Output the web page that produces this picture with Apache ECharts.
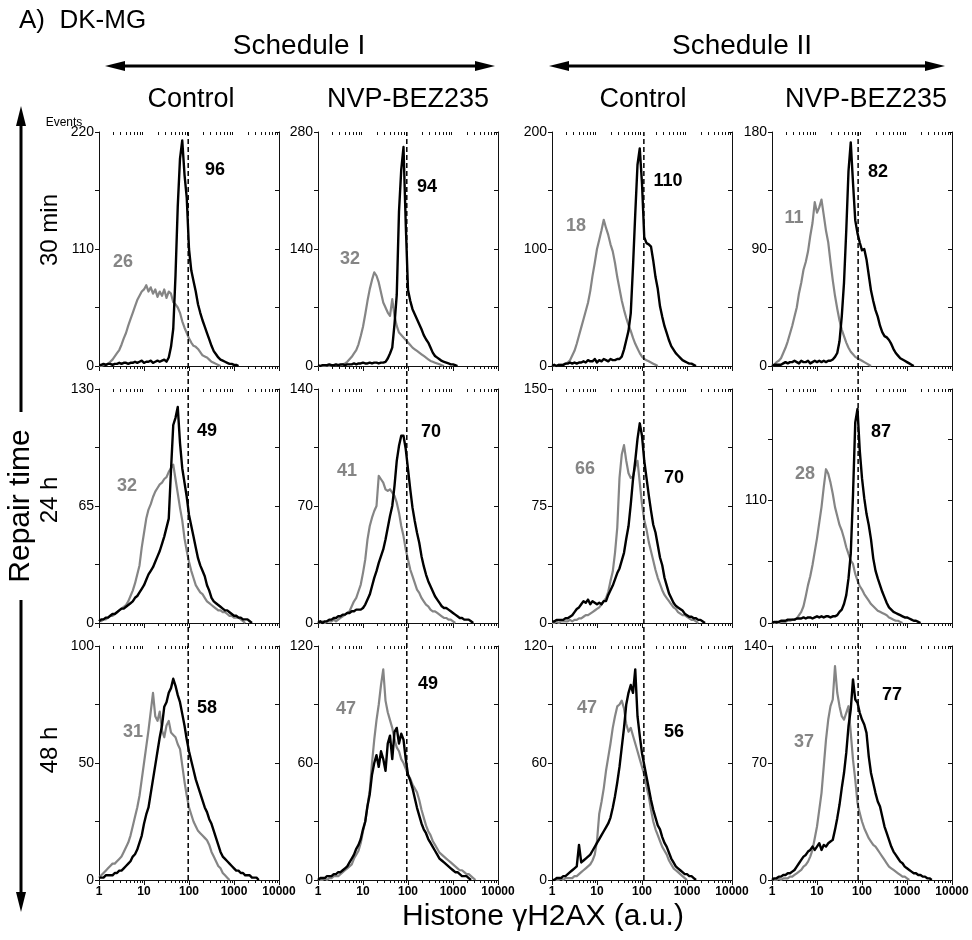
<!DOCTYPE html>
<html>
<head>
<meta charset="utf-8">
<title>DK-MG histone γH2AX</title>
<script src="https://cdn.jsdelivr.net/npm/echarts/dist/echarts.min.js"></script>
<style>
  html, body { margin: 0; padding: 0; background: #fff; }
  #chart { width: 972px; height: 940px; }
</style>
</head>
<body>
<div id="chart"></div>
<script>
// histogram channels: 20 per decade, channel k sits at 10^(k/20)
const CHANNELS_PER_DECADE = 20;

const rowNames = ['30 min', '24 h', '48 h'];
const colNames = ['Control', 'NVP-BEZ235', 'Control', 'NVP-BEZ235'];
const scheduleNames = ['Schedule I', 'Schedule II'];
const minorTickValues = [2, 3, 4, 5, 6, 7, 8, 9, 20, 30, 40, 50, 60, 70, 80, 90,
  200, 300, 400, 500, 600, 700, 800, 900, 2000, 3000, 4000, 5000, 6000, 7000, 8000, 9000];

// y axis range, tick step and labelled ticks, [row][col]
const yMax = [[220, 280, 200, 180], [130, 140, 150, 210], [100, 120, 120, 140]];
const yStep = [[55, 70, 50, 45], [32.5, 35, 37.5, 55], [25, 30, 30, 35]];
const yLabels = [
  [[0, 110, 220], [0, 140, 280], [0, 100, 200], [0, 90, 180]],
  [[0, 65, 130], [0, 70, 140], [0, 75, 150], [0, 110]],
  [[0, 50, 100], [0, 60, 120], [0, 60, 120], [0, 70, 140]]
];

// dashed line = 30 min value of each column
const refLine = [96, 94, 110, 82];
// median numbers written in the panels
const grayMedian = [[26, 32, 18, 11], [32, 41, 66, 28], [31, 47, 47, 37]];
const blackMedian = [[96, 94, 110, 82], [49, 70, 70, 87], [58, 49, 56, 77]];

// ---- histogram counts, channel 0 upward ----
// 30 min
const grayT30S1Ctrl = [0,0,1,1,2,4,6,9,12,15,20,26,31,38,44,50,56,62,66,70,72,76,70,74,68,72,65,70,66,72,64,70,68,60,58,55,50,42,36,31,26,22,19,18,16,13,10,9,8,6,4,3,2,1,0];
const blackT30S1Ctrl = [1,1,2,1,2,2,1,2,2,3,2,3,3,2,3,3,4,3,4,5,3,4,4,5,3,4,5,4,5,6,4,8,18,35,85,150,195,212,180,158,110,90,80,70,58,50,43,37,31,25,19,14,11,8,6,5,4,3,2,2,1,1,0];
const grayT30S1Nvp = [0,0,0,0,1,0,1,1,1,1,1,2,3,5,8,11,15,19,26,36,47,62,78,92,103,112,108,100,88,76,70,64,60,80,60,48,40,37,34,31,28,25,22,20,18,16,14,12,10,8,6,5,4,3,2,1,0];
const blackT30S1Nvp = [1,0,1,1,1,2,1,1,2,1,2,2,1,2,2,2,3,2,3,3,4,3,3,4,3,4,4,3,4,4,5,9,15,22,50,85,185,235,262,170,91,78,68,62,56,50,44,37,32,28,22,16,12,10,8,6,5,4,3,2,2,1,0];
const grayT30S2Ctrl = [0,0,0,1,1,1,2,3,5,9,13,19,26,33,40,47,54,64,77,88,100,108,116,125,118,112,104,98,88,76,66,56,48,41,35,30,24,19,15,11,8,6,5,4,3,2,1,0];
const blackT30S2Ctrl = [0,1,0,1,1,1,2,2,3,2,3,2,3,3,4,3,5,4,4,6,3,5,4,6,5,4,6,5,5,6,6,8,14,22,30,45,85,130,172,186,156,110,105,104,102,90,76,66,51,42,34,28,22,17,14,11,9,7,5,4,3,2,2,1,0];
const grayT30S2Nvp = [0,1,3,4,6,10,14,19,25,31,38,45,56,64,74,80,88,100,110,126,118,122,128,116,104,95,80,66,54,44,35,28,23,18,14,11,9,7,6,5,4,3,2,1,0];
const blackT30S2Nvp = [0,1,1,1,1,2,3,2,3,3,4,3,2,4,3,3,4,2,3,4,3,4,3,4,3,4,4,5,7,10,19,38,64,104,150,172,141,112,102,95,89,90,82,70,58,50,43,38,31,26,23,22,20,17,13,10,8,6,5,4,3,2,1,0];
// 24 h
const grayT24S1Ctrl = [1,1,2,2,3,4,4,5,6,7,8,9,10,12,15,18,22,27,32,42,50,58,63,66,70,73,75,77,78,80,81,84,86,88,80,72,64,57,47,40,34,29,25,21,19,17,16,14,12,11,10,9,8,7,7,6,6,5,4,4,3,3,3,2,1,0];
const blackT24S1Ctrl = [1,2,2,3,3,4,5,5,6,7,8,8,9,10,11,12,14,15,17,19,21,24,27,29,31,34,37,40,44,48,53,58,85,110,114,120,100,86,78,70,60,54,48,42,36,32,29,26,21,18,14,12,11,10,9,8,7,7,6,5,4,4,3,3,2,2,2,1,0];
const grayT24S1Nvp = [0,0,1,0,1,1,1,2,1,2,3,4,5,6,7,10,13,15,19,23,30,38,50,58,63,67,70,88,86,84,80,79,80,78,76,72,66,58,52,44,38,32,28,24,20,18,15,13,11,10,8,7,7,6,5,4,3,3,2,2,1,0];
const blackT24S1Nvp = [0,1,0,1,1,2,2,3,3,4,4,5,5,6,6,7,7,8,8,8,9,11,14,17,22,27,31,36,40,44,50,57,64,70,82,97,106,112,112,104,92,80,69,61,54,48,40,34,29,25,22,19,16,14,12,10,9,9,8,7,6,5,4,3,3,2,2,2,1,0];
const grayT24S2Ctrl = [0,0,1,0,1,1,1,1,2,1,2,2,3,3,4,5,5,6,7,8,9,10,12,14,16,20,27,33,45,61,93,108,114,104,96,93,94,100,104,90,76,66,60,52,46,40,34,29,25,21,18,16,14,12,10,9,7,6,5,5,4,3,2,2,1,0];
const blackT24S2Ctrl = [1,1,2,2,2,2,3,3,4,5,7,9,10,12,14,13,15,12,14,13,12,13,12,14,14,18,21,24,28,32,35,40,45,54,62,76,92,104,118,128,120,104,93,82,72,63,58,50,42,37,29,24,19,16,13,11,10,9,8,6,5,4,4,3,3,2,2,1,0];
const grayT24S2Nvp = [0,0,1,0,1,1,1,2,2,3,3,4,7,10,15,24,34,42,52,64,76,90,104,122,138,134,126,116,104,96,88,83,76,68,62,56,53,44,38,33,30,26,23,20,17,15,13,11,10,9,8,7,5,4,3,2,2,1,0];
const blackT24S2Nvp = [0,1,1,1,2,2,2,3,3,3,3,4,4,4,5,4,5,5,4,5,6,5,6,5,6,6,5,6,6,7,10,12,17,25,40,62,115,180,192,155,130,112,98,88,75,58,47,40,34,28,23,18,14,12,10,9,8,7,6,5,5,4,3,2,2,1,0];
// 48 h
const grayT48S1Ctrl = [1,2,3,4,5,6,7,7,8,9,10,12,14,16,19,23,27,31,36,43,50,57,64,72,80,70,68,72,64,61,66,68,63,62,61,58,56,49,42,36,31,28,25,23,21,20,19,18,17,15,12,10,8,6,5,3,2,1,0];
const blackT48S1Ctrl = [1,1,1,2,2,2,2,3,3,4,4,5,6,7,8,10,11,13,16,19,24,28,31,37,43,49,55,61,66,74,76,80,82,86,83,79,76,71,66,60,55,51,47,43,40,37,34,31,29,26,24,21,18,15,12,10,9,8,7,6,5,4,4,3,3,2,2,2,1,1,1,0];
const grayT48S1Nvp = [0,0,0,1,0,1,1,2,2,2,3,4,5,6,7,8,11,13,15,19,25,30,38,46,60,72,82,90,100,108,92,86,82,78,72,68,66,62,60,57,54,52,49,47,45,41,36,32,28,25,23,20,18,16,14,13,12,11,10,9,8,7,6,5,5,4,3,3,2,1,0];
const blackT48S1Nvp = [0,1,1,1,2,2,2,3,3,4,4,5,6,7,9,11,13,16,18,21,26,30,38,44,54,60,64,58,66,62,56,70,74,62,76,78,70,75,72,62,54,51,47,42,37,33,29,26,24,21,19,17,15,13,11,10,9,8,7,6,5,4,4,3,2,2,2,1,0];
const grayT48S2Ctrl = [0,0,0,0,1,0,1,1,1,1,2,2,3,4,5,6,7,8,10,13,20,34,40,47,56,63,70,78,84,89,90,92,88,80,76,78,74,70,66,62,58,54,48,43,36,30,26,23,20,17,15,13,10,8,6,5,4,3,2,1,0];
const blackT48S2Ctrl = [0,0,1,1,1,2,2,3,4,5,6,7,18,9,10,11,12,13,15,17,19,21,23,25,27,29,32,37,43,50,58,68,78,90,96,100,96,108,84,74,65,59,53,47,41,36,32,28,26,22,19,17,14,11,9,7,6,5,4,3,3,2,2,1,0];
const grayT48S2Nvp = [0,0,0,1,0,1,1,1,2,2,3,4,5,6,8,9,11,14,18,25,32,42,52,68,84,96,104,108,128,112,104,98,96,100,104,88,72,60,46,40,35,31,28,25,23,21,20,18,16,14,12,10,8,7,6,5,4,3,2,2,1,0];
const blackT48S2Nvp = [0,1,1,2,2,3,3,4,4,5,6,8,10,12,14,15,17,18,20,18,20,22,18,21,20,22,23,24,30,37,45,55,64,76,92,102,120,108,106,100,96,93,88,74,64,58,52,47,44,38,32,28,24,20,17,15,13,11,10,8,7,6,5,4,4,3,3,2,2,1,1,0];

const grayData = [
  [grayT30S1Ctrl, grayT30S1Nvp, grayT30S2Ctrl, grayT30S2Nvp],
  [grayT24S1Ctrl, grayT24S1Nvp, grayT24S2Ctrl, grayT24S2Nvp],
  [grayT48S1Ctrl, grayT48S1Nvp, grayT48S2Ctrl, grayT48S2Nvp]
];
const blackData = [
  [blackT30S1Ctrl, blackT30S1Nvp, blackT30S2Ctrl, blackT30S2Nvp],
  [blackT24S1Ctrl, blackT24S1Nvp, blackT24S2Ctrl, blackT24S2Nvp],
  [blackT48S1Ctrl, blackT48S1Nvp, blackT48S2Ctrl, blackT48S2Nvp]
];

// ---- layout ----
const FONT = 'Liberation Sans, Arial, sans-serif';
const GRAY = '#858585';
const colLeft = [99, 318, 552, 772];
const rowTop = [132, 389, 646];
const panelW = 180;
const panelH = 234;
// median label centres, relative to panel top-left: [gray, black]
const labelPos = [
  [[[24, 130], [116, 38]], [[32, 127], [109, 55]], [[24, 94], [116, 49]], [[22, 86], [106, 40]]],
  [[[28, 97], [108, 42]], [[29, 82], [113, 43]], [[33, 80], [122, 89]], [[33, 85], [109, 43]]],
  [[[34, 86], [108, 62]], [[28, 63], [110, 38]], [[35, 62], [122, 86]], [[32, 96], [120, 49]]]
];

function toPairs (counts) {
  return counts.map((c, k) => [Math.pow(10, k / CHANNELS_PER_DECADE), c]);
}

function minorTickItem (params, api) {
  const cs = params.coordSys;
  const x = Math.round(api.coord([api.value(0), 0])[0]) + 0.5;
  const bottom = cs.y + cs.height;
  const top = cs.y;
  const st = { stroke: '#111', lineWidth: 1 };
  return {
    type: 'group',
    children: [
      { type: 'line', shape: { x1: x, y1: bottom, x2: x, y2: bottom + 3 }, style: st },
      { type: 'line', shape: { x1: x, y1: top, x2: x, y2: top + 3 }, style: st }
    ]
  };
}

const grid = [];
const xAxis = [];
const yAxis = [];
const series = [];
const graphic = [];
const lineAxis = { lineStyle: { color: '#111', width: 1 } };

for (let r = 0; r < 3; r++) {
  for (let c = 0; c < 4; c++) {
    const p = r * 4 + c;
    grid.push({ left: colLeft[c], top: rowTop[r], width: panelW, height: panelH });
    const lastRow = r === 2;
    // bottom and top x axes
    xAxis.push({
      type: 'log', logBase: 10, min: 1, max: 10000, gridIndex: p, position: 'bottom',
      axisLine: lineAxis,
      axisTick: { length: 5, lineStyle: { color: '#111' } },
      axisLabel: {
        show: lastRow, color: '#000', fontFamily: FONT, fontWeight: 'bold', fontSize: 12, margin: 6,
        formatter: v => String(Math.round(v))
      },
      splitLine: { show: false }
    });
    xAxis.push({
      type: 'log', logBase: 10, min: 1, max: 10000, gridIndex: p, position: 'top',
      axisLine: lineAxis,
      axisTick: { inside: true, length: 4, lineStyle: { color: '#111' } },
      axisLabel: { show: false },
      splitLine: { show: false }
    });
    const shown = yLabels[r][c];
    yAxis.push({
      type: 'value', min: 0, max: yMax[r][c], interval: yStep[r][c], gridIndex: p, position: 'left',
      axisLine: { show: true, lineStyle: { color: '#111', width: 1 } },
      axisTick: { show: true, length: 4, lineStyle: { color: '#111' } },
      axisLabel: {
        color: '#000', fontFamily: FONT, fontSize: 14, margin: 5,
        formatter: v => (shown.indexOf(v) >= 0 ? String(v) : '')
      },
      splitLine: { show: false }
    });
    yAxis.push({
      type: 'value', min: 0, max: yMax[r][c], interval: yStep[r][c], gridIndex: p, position: 'right',
      axisLine: { show: true, lineStyle: { color: '#111', width: 1 } },
      axisTick: { show: true, inside: true, length: 4, lineStyle: { color: '#111' } },
      axisLabel: { show: false },
      splitLine: { show: false }
    });

    series.push({
      type: 'line', xAxisIndex: 2 * p, yAxisIndex: 2 * p, data: toPairs(grayData[r][c]),
      showSymbol: false, symbol: 'none', lineStyle: { color: GRAY, width: 2.2, join: 'round' }, z: 3
    });
    series.push({
      type: 'line', xAxisIndex: 2 * p, yAxisIndex: 2 * p, data: toPairs(blackData[r][c]),
      showSymbol: false, symbol: 'none', lineStyle: { color: '#000', width: 2.4, join: 'round' }, z: 4
    });
    series.push({
      type: 'custom', xAxisIndex: 2 * p, yAxisIndex: 2 * p, silent: true, clip: false,
      data: minorTickValues.map(v => [v, 0]), renderItem: minorTickItem, z: 5
    });

    const [gp, bp] = labelPos[r][c];
    graphic.push({
      type: 'text', x: colLeft[c] + gp[0], y: rowTop[r] + gp[1],
      style: { text: String(grayMedian[r][c]), fill: GRAY, font: 'bold 18px ' + FONT, textAlign: 'center', textVerticalAlign: 'middle' }
    });
    graphic.push({
      type: 'text', x: colLeft[c] + bp[0], y: rowTop[r] + bp[1],
      style: { text: String(blackMedian[r][c]), fill: '#000', font: 'bold 18px ' + FONT, textAlign: 'center', textVerticalAlign: 'middle' }
    });
  }
}

// full-height overlays carrying the dashed reference line through all rows
for (let c = 0; c < 4; c++) {
  const g = 12 + c;
  grid.push({ left: colLeft[c], top: rowTop[0], width: panelW, height: rowTop[2] + panelH - rowTop[0] });
  xAxis.push({ type: 'log', logBase: 10, min: 1, max: 10000, gridIndex: g, show: false });
  yAxis.push({ type: 'value', min: 0, max: 1, gridIndex: g, show: false });
  series.push({
    type: 'line', xAxisIndex: 24 + c, yAxisIndex: 24 + c,
    data: [[refLine[c], 0], [refLine[c], 1]],
    showSymbol: false, symbol: 'none', z: 6,
    lineStyle: { color: '#000', width: 1.5, type: [5, 3] }
  });
}

// headings and arrows
function hArrow (x1, x2, y) {
  return {
    type: 'group',
    children: [
      { type: 'line', shape: { x1: x1 + 12, y1: y, x2: x2 - 12, y2: y }, style: { stroke: '#000', lineWidth: 3 } },
      { type: 'polygon', shape: { points: [[x1, y], [x1 + 20, y - 5], [x1 + 20, y + 5]] }, style: { fill: '#000' } },
      { type: 'polygon', shape: { points: [[x2, y], [x2 - 20, y - 5], [x2 - 20, y + 5]] }, style: { fill: '#000' } }
    ]
  };
}
graphic.push(hArrow(105, 495, 66));
graphic.push(hArrow(549, 945, 66));
graphic.push({
  type: 'group',
  children: [
    { type: 'line', shape: { x1: 21, y1: 118, x2: 21, y2: 412 }, style: { stroke: '#000', lineWidth: 3 } },
    { type: 'line', shape: { x1: 21, y1: 600, x2: 21, y2: 900 }, style: { stroke: '#000', lineWidth: 3 } },
    { type: 'polygon', shape: { points: [[21, 106], [16, 126], [26, 126]] }, style: { fill: '#000' } },
    { type: 'polygon', shape: { points: [[21, 912], [16, 892], [26, 892]] }, style: { fill: '#000' } }
  ]
});

function txt (text, x, y, size, opts) {
  return Object.assign({
    type: 'text', x: x, y: y,
    style: { text: text, fill: '#000', font: size + 'px ' + FONT, textAlign: 'center', textVerticalAlign: 'middle' }
  }, opts || {});
}
const heading = txt('A)  DK-MG', 19, 21, 26);
heading.style.textAlign = 'left';
graphic.push(heading);
graphic.push(txt(scheduleNames[0], 299, 46, 28));
graphic.push(txt(scheduleNames[1], 742, 46, 28));
const titleX = [191, 408, 643, 866];
colNames.forEach((n, c) => graphic.push(txt(n, titleX[c], 100, 27)));
graphic.push(txt('Events', 64, 123, 12));
const rowLabelY = [230, 500, 750];
rowNames.forEach((n, r) => graphic.push(txt(n, 50, rowLabelY[r], 24, { rotation: Math.PI / 2 })));
graphic.push(txt('Repair time', 21, 506, 30, { rotation: Math.PI / 2 }));
graphic.push(txt('Histone γH2AX (a.u.)', 543, 917, 30));

const chart = echarts.init(document.getElementById('chart'), null, { renderer: 'canvas' });
chart.setOption({
  animation: false,
  backgroundColor: '#fff',
  grid: grid,
  xAxis: xAxis,
  yAxis: yAxis,
  series: series,
  graphic: graphic
});
</script>
</body>
</html>
